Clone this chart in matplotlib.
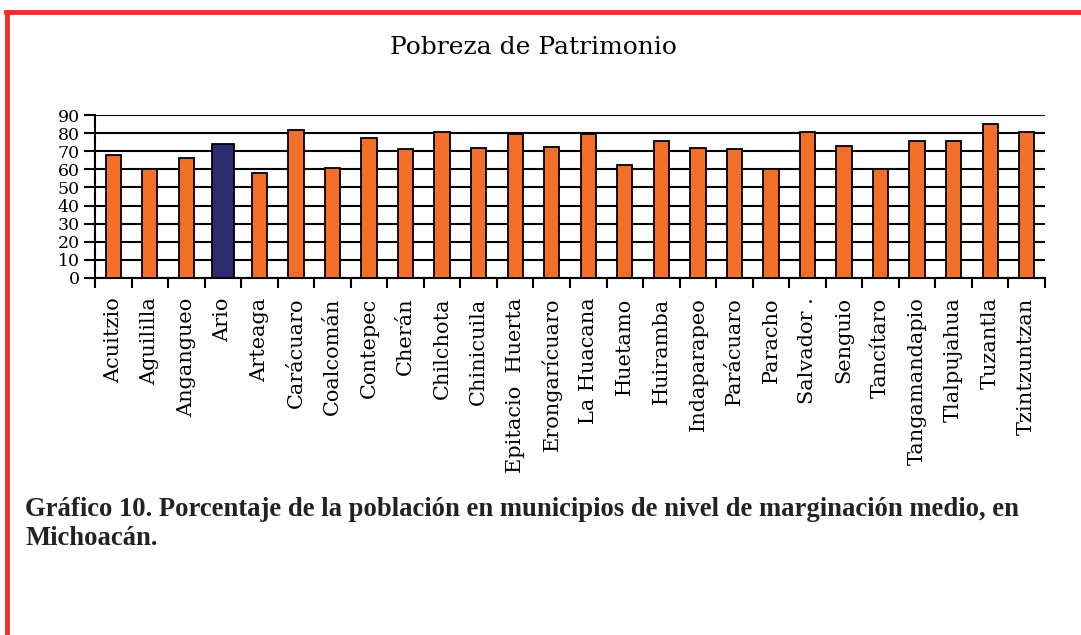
import matplotlib
matplotlib.use("Agg")
import matplotlib.pyplot as plt
from matplotlib.lines import Line2D

municipios = ["Acuitzio", "Aguililla", "Angangueo", "Ario", "Arteaga", "Carácuaro",
              "Coalcomán", "Contepec", "Cherán", "Chilchota", "Chinicuila",
              "Epitacio  Huerta", "Erongarícuaro", "La Huacana", "Huetamo", "Huiramba",
              "Indaparapeo", "Parácuaro", "Paracho", "Salvador .", "Senguio",
              "Tancítaro", "Tangamandapio", "Tlalpujahua", "Tuzantla", "Tzintzuntzan"]
valores = [68, 60, 66, 74, 58, 81.5, 61, 77.5, 71, 80.5, 72, 79.5, 72.5, 79.5, 62.5,
           75.5, 72, 71, 60, 80.5, 73, 60, 75.5, 75.5, 85, 80.5]
destacado = "Ario"
yticks = list(range(0, 91, 10))

titulo = "Pobreza de Patrimonio"
pie = ("Gráfico 10. Porcentaje de la población en municipios de nivel de marginación medio, en\n"
       "Michoacán.")

W, H = 1081, 635
fig = plt.figure(figsize=(W / 100, H / 100), dpi=100)
ax = fig.add_axes([95 / W, 1 - 278 / H, (1045 - 95) / W, (278 - 115) / H])

orange = "#F26F2A"
navy = "#2E2A6E"
x = list(range(len(municipios)))
colors = [navy if m == destacado else orange for m in municipios]
widths = [0.6 if m == destacado else 0.42 for m in municipios]
ax.bar(x, valores, width=widths, color=colors, edgecolor="black", linewidth=1.3, zorder=3)

ax.set_xlim(-0.5, len(municipios) - 0.5)
ax.set_ylim(0, 90)
ax.set_yticks(yticks)
ax.set_yticklabels([str(v) for v in yticks], fontsize=12.5, family="DejaVu Serif")
ax.yaxis.grid(True, color="black", linewidth=1.5, zorder=0)
ax.set_axisbelow(True)

ax.set_xticks([i - 0.5 for i in range(len(municipios) + 1)], minor=False)
ax.set_xticklabels([])
ax.set_xticks(x, minor=True)
ax.set_xticklabels(municipios, minor=True, rotation=90, fontsize=15,
                   family="DejaVu Serif", va="top", ha="center")
ax.tick_params(axis="x", which="minor", length=0, pad=14)
ax.tick_params(axis="x", which="major", length=7, width=1.5, direction="out")
ax.tick_params(axis="y", length=8, width=1.5, direction="out", pad=3)

for s in ["top", "right"]:
    ax.spines[s].set_visible(False)
ax.spines["left"].set_linewidth(1.5)
ax.spines["bottom"].set_linewidth(1.5)

fig.text(533 / W, 1 - 47 / H, titulo, ha="center", va="center", fontsize=18,
         family="DejaVu Serif")

fig.text(25 / W, 1 - 524 / H, pie, ha="left", va="center", fontsize=19.2,
         family="Liberation Serif", weight="bold", color="#222222", linespacing=1.2)

red = "#E8332C"
fig.add_artist(Line2D([6 / W, 1], [1 - 12 / H, 1 - 12 / H], transform=fig.transFigure,
                      color=red, linewidth=3.5))
fig.add_artist(Line2D([7 / W, 7 / W], [0, 1 - 12 / H], transform=fig.transFigure,
                      color=red, linewidth=3.5))

fig.savefig("out.png", dpi=100)
